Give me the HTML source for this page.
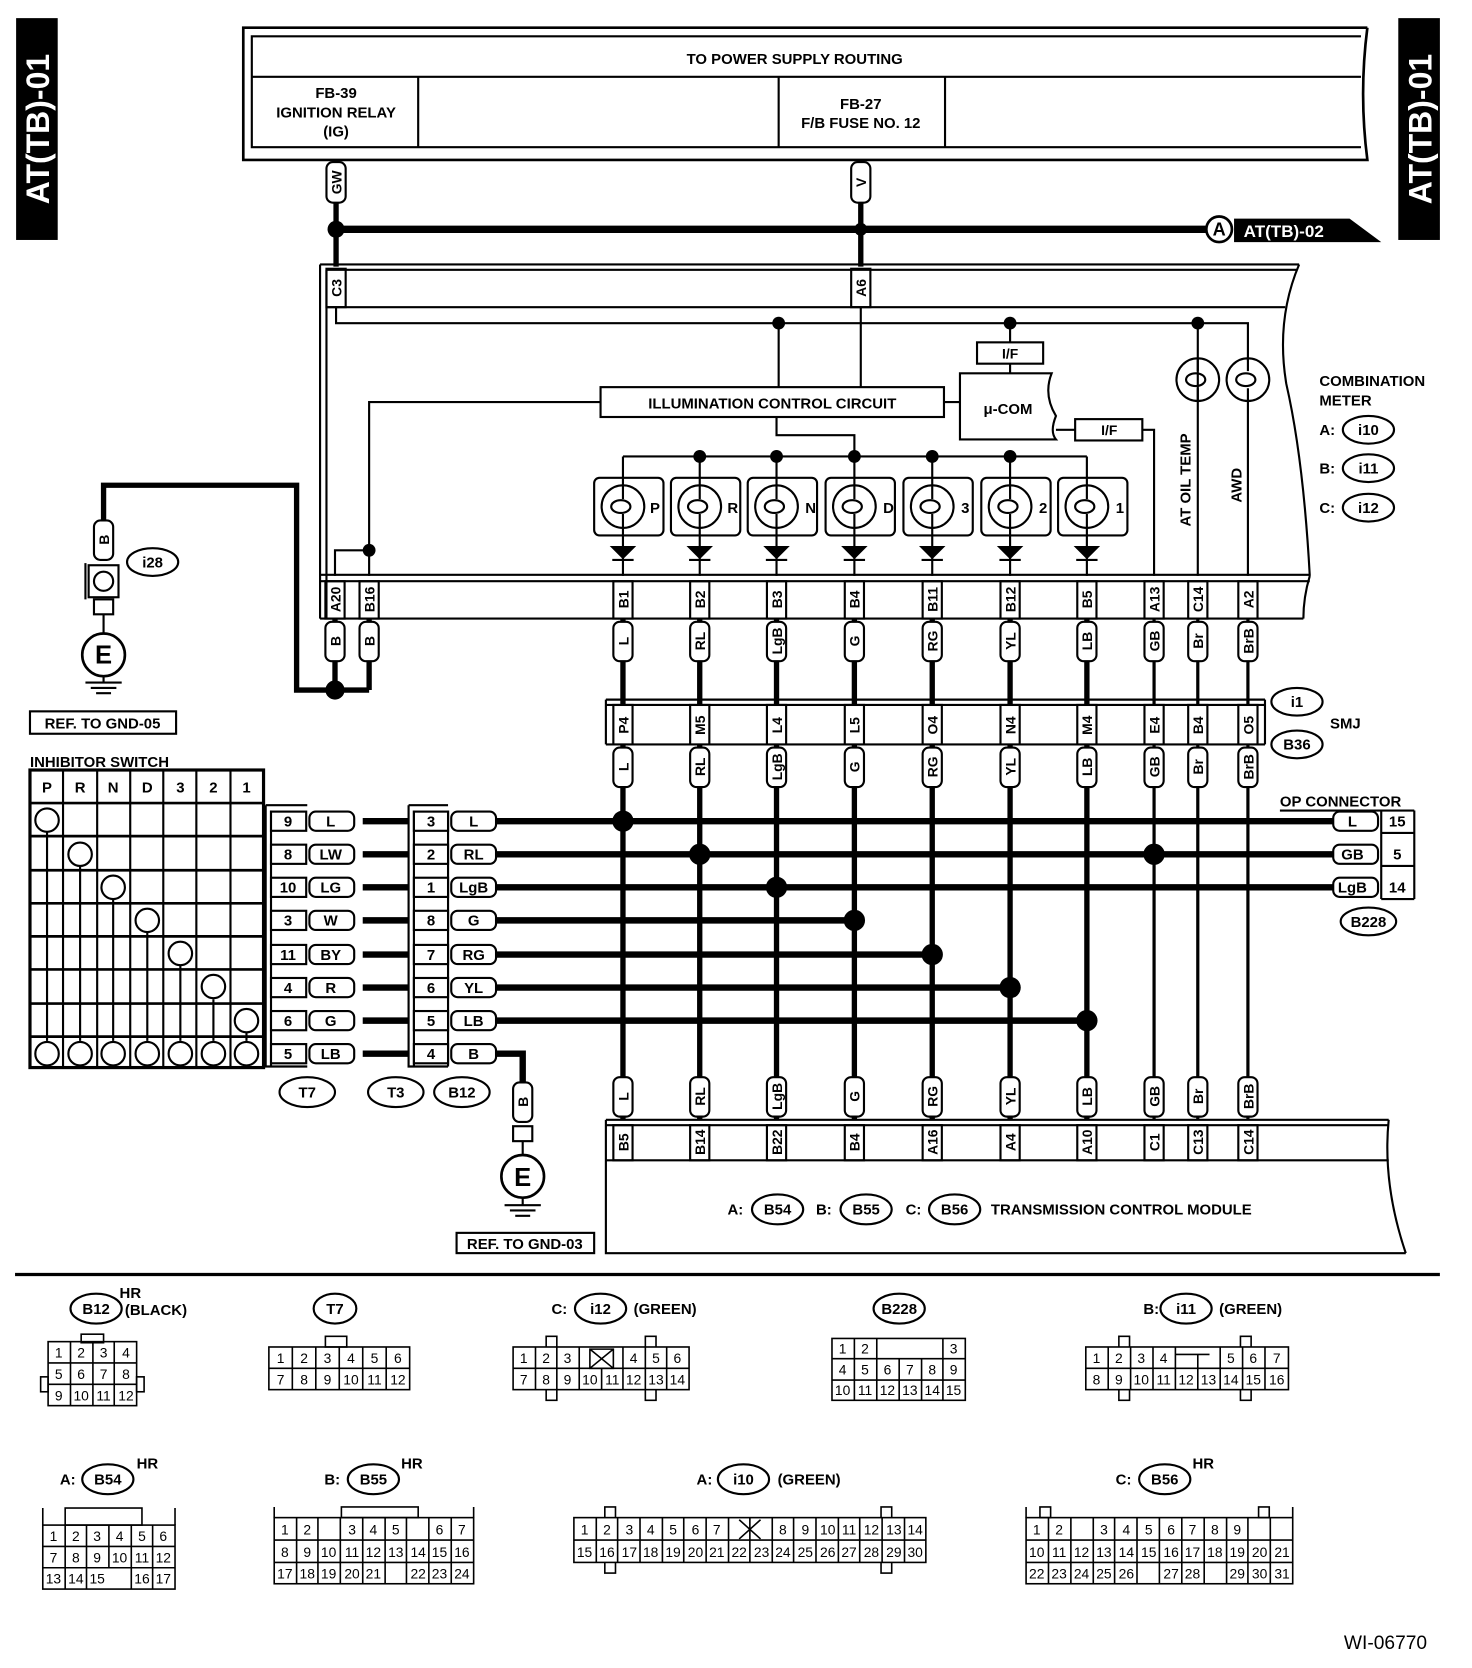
<!DOCTYPE html>
<html><head><meta charset="utf-8"><style>
html,body{margin:0;padding:0;background:#fff;}
svg{display:block;}
text{font-family:"Liberation Sans",Arial,sans-serif;font-weight:bold;fill:#000;}
.n text, text.n{font-weight:normal;}
</style></head><body>
<svg width="1472" height="1668" viewBox="0 0 1380 1564" xmlns="http://www.w3.org/2000/svg">
<g fill="none" stroke="#000" stroke-width="2">
<rect x="16" y="18" width="37" height="206" fill="#000"/>
<rect x="1312" y="18" width="37" height="206" fill="#000"/>
<path d="M1282 26 H228 V150 H1282 Q1274 88 1282 26" stroke-width="2.5"/>
<path d="M1276 34 H236 V138 H1276" />
<line x1="236" y1="72" x2="1276" y2="72"/>
<line x1="392" y1="72" x2="392" y2="138"/>
<line x1="730" y1="72" x2="730" y2="138"/>
<line x1="886" y1="72" x2="886" y2="138"/>
<line x1="315" y1="150" x2="315" y2="250" stroke-width="5"/>
<line x1="807" y1="150" x2="807" y2="250" stroke-width="5"/>
<line x1="315" y1="215" x2="1132" y2="215" stroke-width="7"/>
<rect x="306" y="152" width="18" height="38" rx="6" fill="#fff"/>
<rect x="798" y="152" width="18" height="38" rx="6" fill="#fff"/>
<circle cx="1143" cy="215" r="12" fill="#fff" stroke-width="2.5"/>
<path d="M1158 206 H1265 L1292 226 H1158 Z" fill="#000"/>
<path d="M300 248 H1218 M306 253 H1216 M300 248 V580 M306 253 V580" />
<line x1="306" y1="288" x2="1205" y2="288"/>
<path d="M1218 248 Q1196 300 1206 360 Q1222 430 1228 540" />
<rect x="306" y="252" width="18" height="36"/>
<rect x="798" y="252" width="18" height="36"/>
<path d="M315 288 V303 H1170 V338"/>
<line x1="730" y1="303" x2="730" y2="363"/>
<line x1="807" y1="288" x2="807" y2="363"/>
<line x1="947" y1="303" x2="947" y2="350"/>
<line x1="1123" y1="303" x2="1123" y2="540"/>
<line x1="1170" y1="375" x2="1170" y2="540"/>
<rect x="563" y="363" width="322" height="28" fill="#fff"/>
<rect x="916" y="321" width="62" height="20" fill="#fff"/>
<path d="M900 350 H986 Q978 370 990 390 Q984 405 990 412 H900 Z" fill="#fff"/>
<line x1="885" y1="377" x2="900" y2="377"/>
<path d="M990 403 H1008"/>
<rect x="1008" y="393" width="63" height="20" fill="#fff"/>
<path d="M1071 403 H1082 V540"/>
<path d="M563 377 H346 V540"/>
<path d="M346 516 H314 V540"/>
<path d="M728 391 V408 H801 V428"/>
<line x1="584" y1="428" x2="1019" y2="428"/>
<circle cx="1123" cy="356" r="20"/><circle cx="1170" cy="356" r="20"/>
<path d="M1123 336 V348 M1123 364 V376 M1170 336 V348 M1170 364 V376"/>
<ellipse cx="1121" cy="356" rx="9" ry="6"/><ellipse cx="1168" cy="356" rx="9" ry="6"/>
<rect x="557" y="448" width="65" height="54" rx="5"/><circle cx="584" cy="475" r="20"/><ellipse cx="582" cy="475" rx="9" ry="6"/><path d="M584 428 V468 M584 482 V540 M574 525 H594"/><path d="M574 513 H594 L584 523 Z" fill="#000"/>
<rect x="629" y="448" width="65" height="54" rx="5"/><circle cx="656" cy="475" r="20"/><ellipse cx="654" cy="475" rx="9" ry="6"/><path d="M656 428 V468 M656 482 V540 M646 525 H666"/><path d="M646 513 H666 L656 523 Z" fill="#000"/>
<rect x="701" y="448" width="65" height="54" rx="5"/><circle cx="728" cy="475" r="20"/><ellipse cx="726" cy="475" rx="9" ry="6"/><path d="M728 428 V468 M728 482 V540 M718 525 H738"/><path d="M718 513 H738 L728 523 Z" fill="#000"/>
<rect x="774" y="448" width="65" height="54" rx="5"/><circle cx="801" cy="475" r="20"/><ellipse cx="799" cy="475" rx="9" ry="6"/><path d="M801 428 V468 M801 482 V540 M791 525 H811"/><path d="M791 513 H811 L801 523 Z" fill="#000"/>
<rect x="847" y="448" width="65" height="54" rx="5"/><circle cx="874" cy="475" r="20"/><ellipse cx="872" cy="475" rx="9" ry="6"/><path d="M874 428 V468 M874 482 V540 M864 525 H884"/><path d="M864 513 H884 L874 523 Z" fill="#000"/>
<rect x="920" y="448" width="65" height="54" rx="5"/><circle cx="947" cy="475" r="20"/><ellipse cx="945" cy="475" rx="9" ry="6"/><path d="M947 428 V468 M947 482 V540 M937 525 H957"/><path d="M937 513 H957 L947 523 Z" fill="#000"/>
<rect x="992" y="448" width="65" height="54" rx="5"/><circle cx="1019" cy="475" r="20"/><ellipse cx="1017" cy="475" rx="9" ry="6"/><path d="M1019 428 V468 M1019 482 V540 M1009 525 H1029"/><path d="M1009 513 H1029 L1019 523 Z" fill="#000"/>
<path d="M300 539 H1228 M300 545 H1228 M300 580 H1222"/>
<path d="M1228 540 Q1222 560 1222 580"/>
<rect x="305" y="545" width="18" height="35"/><rect x="337" y="545" width="18" height="35"/>
<rect x="575" y="545" width="18" height="35"/><rect x="647" y="545" width="18" height="35"/>
<rect x="719" y="545" width="18" height="35"/><rect x="792" y="545" width="18" height="35"/>
<rect x="865" y="545" width="18" height="35"/><rect x="938" y="545" width="18" height="35"/>
<rect x="1010" y="545" width="18" height="35"/><rect x="1073" y="545" width="18" height="35"/>
<rect x="1114" y="545" width="18" height="35"/><rect x="1161" y="545" width="18" height="35"/>
<path d="M97 488 V455 H278 V647 H346" stroke-width="5"/>
<line x1="314" y1="580" x2="314" y2="647" stroke-width="5"/>
<line x1="346" y1="580" x2="346" y2="647" stroke-width="5"/>
<rect x="305" y="583" width="18" height="37" rx="6" fill="#fff"/>
<rect x="337" y="583" width="18" height="37" rx="6" fill="#fff"/>
<rect x="88" y="488" width="18" height="37" rx="6" fill="#fff"/>
<rect x="83" y="530" width="28" height="30" fill="#fff"/><path d="M80 528 V562"/>
<circle cx="97" cy="545" r="9"/>
<rect x="88" y="562" width="18" height="14"/>
<line x1="97" y1="576" x2="97" y2="594"/>
<circle cx="97" cy="614" r="20" stroke-width="2.5"/>
<path d="M97 634 V640 M80 640 H114 M85 645 H109 M90 650 H104" />
<ellipse cx="143" cy="527" rx="24" ry="13"/>
<rect x="28" y="667" width="137" height="21"/>
<g stroke-width="5">
<path d="M584 580 V1050 M656 580 V1050 M728 580 V1050 M801 580 V1050 M874 580 V1050 M947 580 V1050 M1019 580 V1050"/>
</g>
<path d="M1082 580 V1050 M1123 580 V1050 M1170 580 V1050" stroke-width="3"/>
<path d="M568 656 H1186 M568 661 H1186 M568 698 H1186 M568 656 V698 M1186 656 V698"/>
<g stroke-width="6">
<path d="M340 770 H383 M340 801 H383 M340 832 H383 M340 863 H383 M340 895 H383 M340 926 H383 M340 957 H383 M340 988 H383"/>
<path d="M463 770 H1250 M463 801 H1250 M463 832 H1250 M463 863 H801 M463 895 H874 M463 926 H947 M463 957 H1019"/>
<path d="M463 988 H490 V1015"/>
</g>
<g fill="#fff">
<rect x="575" y="583" width="18" height="37" rx="6"/><rect x="647" y="583" width="18" height="37" rx="6"/><rect x="719" y="583" width="18" height="37" rx="6"/><rect x="792" y="583" width="18" height="37" rx="6"/><rect x="865" y="583" width="18" height="37" rx="6"/><rect x="938" y="583" width="18" height="37" rx="6"/><rect x="1010" y="583" width="18" height="37" rx="6"/><rect x="1073" y="583" width="18" height="37" rx="6"/><rect x="1114" y="583" width="18" height="37" rx="6"/><rect x="1161" y="583" width="18" height="37" rx="6"/>
<rect x="575" y="661" width="18" height="37"/><rect x="647" y="661" width="18" height="37"/><rect x="719" y="661" width="18" height="37"/><rect x="792" y="661" width="18" height="37"/><rect x="865" y="661" width="18" height="37"/><rect x="938" y="661" width="18" height="37"/><rect x="1010" y="661" width="18" height="37"/><rect x="1073" y="661" width="18" height="37"/><rect x="1114" y="661" width="18" height="37"/><rect x="1161" y="661" width="18" height="37"/>
<rect x="575" y="701" width="18" height="37" rx="6"/><rect x="647" y="701" width="18" height="37" rx="6"/><rect x="719" y="701" width="18" height="37" rx="6"/><rect x="792" y="701" width="18" height="37" rx="6"/><rect x="865" y="701" width="18" height="37" rx="6"/><rect x="938" y="701" width="18" height="37" rx="6"/><rect x="1010" y="701" width="18" height="37" rx="6"/><rect x="1073" y="701" width="18" height="37" rx="6"/><rect x="1114" y="701" width="18" height="37" rx="6"/><rect x="1161" y="701" width="18" height="37" rx="6"/>
<rect x="575" y="1010" width="18" height="37" rx="6"/><rect x="647" y="1010" width="18" height="37" rx="6"/><rect x="719" y="1010" width="18" height="37" rx="6"/><rect x="792" y="1010" width="18" height="37" rx="6"/><rect x="865" y="1010" width="18" height="37" rx="6"/><rect x="938" y="1010" width="18" height="37" rx="6"/><rect x="1010" y="1010" width="18" height="37" rx="6"/><rect x="1073" y="1010" width="18" height="37" rx="6"/><rect x="1114" y="1010" width="18" height="37" rx="6"/><rect x="1161" y="1010" width="18" height="37" rx="6"/>
</g>
<ellipse cx="1216" cy="658" rx="24" ry="13"/><ellipse cx="1216" cy="698" rx="24" ry="13"/>
<ellipse cx="1283" cy="403" rx="24" ry="13"/><ellipse cx="1283" cy="439" rx="24" ry="13"/><ellipse cx="1283" cy="476" rx="24" ry="13"/>
<path d="M568 1050 H1302 M568 1055 H1302 M568 1088 H1302 M568 1050 V1175 H1318"/>
<path d="M1302 1050 Q1296 1110 1318 1175"/>
<rect x="575" y="1055" width="18" height="33"/><rect x="647" y="1055" width="18" height="33"/><rect x="719" y="1055" width="18" height="33"/><rect x="792" y="1055" width="18" height="33"/><rect x="865" y="1055" width="18" height="33"/><rect x="938" y="1055" width="18" height="33"/><rect x="1010" y="1055" width="18" height="33"/><rect x="1073" y="1055" width="18" height="33"/><rect x="1114" y="1055" width="18" height="33"/><rect x="1161" y="1055" width="18" height="33"/>
<ellipse cx="729" cy="1134" rx="24" ry="14"/><ellipse cx="812" cy="1134" rx="24" ry="14"/><ellipse cx="895" cy="1134" rx="24" ry="14"/>
<g fill="#fff"><rect x="1250" y="761" width="42" height="18" rx="6"/><rect x="1250" y="792" width="42" height="18" rx="6"/><rect x="1250" y="823" width="42" height="18" rx="6"/></g>
<path d="M1200 760 H1326 M1295 760 V843 M1295 781 H1326 M1295 812 H1326 M1295 843 H1326 M1326 760 V843"/>
<ellipse cx="1283" cy="864" rx="26" ry="13"/>
<rect x="28" y="722" width="219" height="279" stroke-width="3"/>
<path d="M59 722 V1001 M91 722 V1001 M122 722 V1001 M153 722 V1001 M184 722 V1001 M216 722 V1001"/>
<path d="M28 753 H247 M28 784 H247 M28 816 H247 M28 847 H247 M28 878 H247 M28 909 H247 M28 941 H247 M28 972 H247" stroke-width="2.5"/>
<path d="M44 780 V976 M75 812 V976 M106 843 V976 M138 874 V976 M169 905 V976 M200 937 V976 M231 968 V976"/>
<circle cx="44" cy="769" r="11" fill="#fff"/><circle cx="75" cy="801" r="11" fill="#fff"/><circle cx="106" cy="832" r="11" fill="#fff"/><circle cx="138" cy="863" r="11" fill="#fff"/><circle cx="169" cy="894" r="11" fill="#fff"/><circle cx="200" cy="925" r="11" fill="#fff"/><circle cx="231" cy="957" r="11" fill="#fff"/>
<circle cx="44" cy="988" r="11" fill="#fff"/><circle cx="75" cy="988" r="11" fill="#fff"/><circle cx="106" cy="988" r="11" fill="#fff"/><circle cx="138" cy="988" r="11" fill="#fff"/><circle cx="169" cy="988" r="11" fill="#fff"/><circle cx="200" cy="988" r="11" fill="#fff"/><circle cx="231" cy="988" r="11" fill="#fff"/>
<path d="M249 755 H288 M249 755 V1000 H288 M254 760 V1000"/>
<g fill="#fff">
<rect x="254" y="761" width="33" height="18"/><rect x="254" y="792" width="33" height="18"/><rect x="254" y="823" width="33" height="18"/><rect x="254" y="854" width="33" height="18"/><rect x="254" y="886" width="33" height="18"/><rect x="254" y="917" width="33" height="18"/><rect x="254" y="948" width="33" height="18"/><rect x="254" y="979" width="33" height="18"/>
<rect x="290" y="761" width="42" height="18" rx="6"/><rect x="290" y="792" width="42" height="18" rx="6"/><rect x="290" y="823" width="42" height="18" rx="6"/><rect x="290" y="854" width="42" height="18" rx="6"/><rect x="290" y="886" width="42" height="18" rx="6"/><rect x="290" y="917" width="42" height="18" rx="6"/><rect x="290" y="948" width="42" height="18" rx="6"/><rect x="290" y="979" width="42" height="18" rx="6"/>
</g>
<path d="M383 755 V1000 H420 M383 755 H420 M388 760 V1000 M420 760 V1000"/>
<g fill="#fff">
<rect x="388" y="761" width="32" height="18"/><rect x="388" y="792" width="32" height="18"/><rect x="388" y="823" width="32" height="18"/><rect x="388" y="854" width="32" height="18"/><rect x="388" y="886" width="32" height="18"/><rect x="388" y="917" width="32" height="18"/><rect x="388" y="948" width="32" height="18"/><rect x="388" y="979" width="32" height="18"/>
<rect x="423" y="761" width="42" height="18" rx="6"/><rect x="423" y="792" width="42" height="18" rx="6"/><rect x="423" y="823" width="42" height="18" rx="6"/><rect x="423" y="854" width="42" height="18" rx="6"/><rect x="423" y="886" width="42" height="18" rx="6"/><rect x="423" y="917" width="42" height="18" rx="6"/><rect x="423" y="948" width="42" height="18" rx="6"/><rect x="423" y="979" width="42" height="18" rx="6"/>
</g>
<ellipse cx="288" cy="1024" rx="26" ry="14"/><ellipse cx="371" cy="1024" rx="26" ry="14"/><ellipse cx="433" cy="1024" rx="26" ry="14"/>
<rect x="481" y="1015" width="18" height="37" rx="6" fill="#fff"/>
<rect x="481" y="1056" width="18" height="14"/><line x1="490" y1="1070" x2="490" y2="1082"/>
<circle cx="490" cy="1103" r="20" stroke-width="2.5"/>
<path d="M490 1123 V1130 M473 1130 H507 M478 1135 H502 M483 1140 H497"/>
<rect x="428" y="1156" width="129" height="19"/>
<line x1="14" y1="1195" x2="1350" y2="1195" stroke-width="3"/>
<ellipse cx="90" cy="1227" rx="24" ry="14"/><ellipse cx="314" cy="1227" rx="20" ry="14"/><ellipse cx="563" cy="1227" rx="24" ry="14"/><ellipse cx="843" cy="1227" rx="24" ry="14"/><ellipse cx="1112" cy="1227" rx="24" ry="14"/>
<ellipse cx="101" cy="1387" rx="24" ry="14"/><ellipse cx="350" cy="1387" rx="24" ry="14"/><ellipse cx="697" cy="1387" rx="24" ry="14"/><ellipse cx="1092" cy="1387" rx="24" ry="14"/>
</g>
<g stroke="#000" stroke-width="1.5" fill="none">
<rect x="76" y="1251" width="21" height="8"/>
<rect x="38" y="1291" width="7" height="14"/><rect x="128" y="1291" width="7" height="14"/>
<rect x="45" y="1258" width="83" height="60"/><path d="M66 1258 V1318 M87 1258 V1318 M107 1258 V1318 M45 1278 H128 M45 1298 H128"/>
<rect x="305" y="1253" width="20" height="10"/>
<rect x="252" y="1263" width="132" height="40"/><path d="M274 1263 V1303 M296 1263 V1303 M318 1263 V1303 M340 1263 V1303 M362 1263 V1303 M252 1283 H384"/>
<rect x="512" y="1253" width="10" height="60"/><rect x="605" y="1253" width="10" height="60"/>
<rect x="481" y="1263" width="165" height="40" fill="#fff"/><path d="M502 1263 V1303 M522 1263 V1303 M543 1263 V1303 M564 1283 V1303 M584 1263 V1303 M605 1263 V1303 M625 1263 V1303 M481 1283 H646"/>
<path d="M553 1265 H575 V1283 H553 Z M553 1265 L575 1283 M575 1265 L553 1283"/>
<rect x="780" y="1255" width="125" height="58"/><path d="M801 1255 V1313 M822 1274 V1313 M843 1274 V1313 M864 1274 V1313 M884 1255 V1313 M822 1255 V1274 M780 1274 H905 M780 1294 H905"/>
<rect x="1049" y="1253" width="10" height="60"/><rect x="1163" y="1253" width="10" height="60"/>
<rect x="1018" y="1263" width="190" height="40" fill="#fff"/><path d="M1039 1263 V1303 M1060 1263 V1303 M1081 1263 V1303 M1102 1263 V1303 M1123 1270 V1303 M1144 1263 V1303 M1165 1263 V1303 M1186 1263 V1303 M1018 1283 H1208 M1102 1270 H1134"/>
<path d="M40 1414 V1430 M164 1414 V1430"/><rect x="61" y="1414" width="72" height="16"/>
<rect x="40" y="1430" width="124" height="60"/><path d="M61 1430 V1490 M81 1430 V1490 M102 1430 V1470 M123 1430 V1490 M143 1430 V1490 M40 1450 H164 M40 1470 H164"/>
<path d="M257 1413 V1423 M444 1413 V1423"/><rect x="320" y="1413" width="72" height="10"/>
<rect x="257" y="1423" width="187" height="62"/><path d="M278 1423 V1485 M298 1423 V1485 M319 1423 V1485 M340 1423 V1485 M361 1423 V1485 M381 1423 V1485 M402 1423 V1485 M423 1423 V1485 M257 1444 H444 M257 1465 H444"/>
<rect x="567" y="1413" width="10" height="62"/><rect x="826" y="1413" width="10" height="62"/>
<rect x="538" y="1423" width="330" height="42" fill="#fff"/><path d="M559 1423 V1465 M579 1423 V1465 M600 1423 V1465 M621 1423 V1465 M641 1423 V1465 M662 1423 V1465 M683 1423 V1465 M703 1423 V1465 M724 1423 V1465 M744 1423 V1465 M765 1423 V1465 M786 1423 V1465 M806 1423 V1465 M827 1423 V1465 M848 1423 V1465 M538 1444 H868"/>
<path d="M693 1425 L713 1443 M713 1425 L693 1443"/>
<path d="M962 1413 V1423 M1212 1413 V1423"/><rect x="975" y="1413" width="10" height="10"/><rect x="1180" y="1413" width="10" height="10"/>
<rect x="962" y="1423" width="250" height="62"/><path d="M983 1423 V1485 M1004 1423 V1485 M1025 1423 V1485 M1045 1423 V1485 M1066 1423 V1485 M1087 1423 V1485 M1108 1423 V1485 M1129 1423 V1485 M1150 1423 V1485 M1170 1423 V1485 M1191 1423 V1485 M962 1444 H1212 M962 1465 H1212"/>
</g>
<g fill="#000">
<circle cx="315" cy="215" r="8"/><circle cx="807" cy="215" r="6"/>
<circle cx="730" cy="303" r="6"/><circle cx="947" cy="303" r="6"/><circle cx="1123" cy="303" r="6"/>
<circle cx="656" cy="428" r="6"/><circle cx="728" cy="428" r="6"/><circle cx="801" cy="428" r="6"/><circle cx="874" cy="428" r="6"/><circle cx="947" cy="428" r="6"/>
<circle cx="346" cy="516" r="6"/><circle cx="314" cy="647" r="9"/>
<circle cx="584" cy="770" r="10"/><circle cx="656" cy="801" r="10"/><circle cx="1082" cy="801" r="10"/><circle cx="728" cy="832" r="10"/><circle cx="801" cy="863" r="10"/><circle cx="874" cy="895" r="10"/><circle cx="947" cy="926" r="10"/><circle cx="1019" cy="957" r="10"/>
</g>
<g font-size="14">
<text transform="translate(46,121) rotate(-90)" text-anchor="middle" font-size="30" style="fill:#fff">AT(TB)-01</text>
<text transform="translate(1342,121) rotate(-90)" text-anchor="middle" font-size="30" style="fill:#fff">AT(TB)-01</text>
<text x="745" y="60" text-anchor="middle">TO POWER SUPPLY ROUTING</text>
<text x="315" y="92" text-anchor="middle">FB-39</text>
<text x="315" y="110" text-anchor="middle">IGNITION RELAY</text>
<text x="315" y="128" text-anchor="middle">(IG)</text>
<text x="807" y="102" text-anchor="middle">FB-27</text>
<text x="807" y="120" text-anchor="middle">F/B FUSE NO. 12</text>
<text transform="translate(320,171) rotate(-90)" text-anchor="middle" font-size="13">GW</text>
<text transform="translate(812,171) rotate(-90)" text-anchor="middle" font-size="13">V</text>
<text x="1143" y="221" text-anchor="middle" font-size="17">A</text>
<text x="1166" y="222" font-size="16" style="fill:#fff">AT(TB)-02</text>
<text transform="translate(320,270) rotate(-90)" text-anchor="middle" font-size="13">C3</text>
<text transform="translate(812,270) rotate(-90)" text-anchor="middle" font-size="13">A6</text>
<text x="947" y="336" text-anchor="middle" font-size="13">I/F</text>
<text x="945" y="388" text-anchor="middle">μ-COM</text>
<text x="1040" y="408" text-anchor="middle" font-size="13">I/F</text>
<text x="724" y="383" text-anchor="middle">ILLUMINATION CONTROL CIRCUIT</text>
<text x="614" y="481" text-anchor="middle">P</text><text x="687" y="481" text-anchor="middle">R</text><text x="760" y="481" text-anchor="middle">N</text><text x="833" y="481" text-anchor="middle">D</text><text x="905" y="481" text-anchor="middle">3</text><text x="978" y="481" text-anchor="middle">2</text><text x="1050" y="481" text-anchor="middle">1</text>
<text transform="translate(1116,450) rotate(-90)" text-anchor="middle">AT OIL TEMP</text>
<text transform="translate(1164,455) rotate(-90)" text-anchor="middle">AWD</text>
<text x="1237" y="362">COMBINATION</text><text x="1237" y="380">METER</text>
<text x="1237" y="408">A:</text><text x="1283" y="408" text-anchor="middle">i10</text>
<text x="1237" y="444">B:</text><text x="1283" y="444" text-anchor="middle">i11</text>
<text x="1237" y="481">C:</text><text x="1283" y="481" text-anchor="middle">i12</text>
</g>
<g font-size="13" text-anchor="middle">
<text transform="translate(319,562) rotate(-90)">A20</text><text transform="translate(351,562) rotate(-90)">B16</text>
<text transform="translate(589,562) rotate(-90)">B1</text><text transform="translate(661,562) rotate(-90)">B2</text><text transform="translate(733,562) rotate(-90)">B3</text><text transform="translate(806,562) rotate(-90)">B4</text><text transform="translate(879,562) rotate(-90)">B11</text><text transform="translate(952,562) rotate(-90)">B12</text><text transform="translate(1024,562) rotate(-90)">B5</text><text transform="translate(1087,562) rotate(-90)">A13</text><text transform="translate(1128,562) rotate(-90)">C14</text><text transform="translate(1175,562) rotate(-90)">A2</text>
<text transform="translate(319,601) rotate(-90)">B</text><text transform="translate(351,601) rotate(-90)">B</text>
<text transform="translate(589,601) rotate(-90)">L</text><text transform="translate(661,601) rotate(-90)">RL</text><text transform="translate(733,601) rotate(-90)">LgB</text><text transform="translate(806,601) rotate(-90)">G</text><text transform="translate(879,601) rotate(-90)">RG</text><text transform="translate(952,601) rotate(-90)">YL</text><text transform="translate(1024,601) rotate(-90)">LB</text><text transform="translate(1087,601) rotate(-90)">GB</text><text transform="translate(1128,601) rotate(-90)">Br</text><text transform="translate(1175,601) rotate(-90)">BrB</text>
<text transform="translate(589,680) rotate(-90)">P4</text><text transform="translate(661,680) rotate(-90)">M5</text><text transform="translate(733,680) rotate(-90)">L4</text><text transform="translate(806,680) rotate(-90)">L5</text><text transform="translate(879,680) rotate(-90)">O4</text><text transform="translate(952,680) rotate(-90)">N4</text><text transform="translate(1024,680) rotate(-90)">M4</text><text transform="translate(1087,680) rotate(-90)">E4</text><text transform="translate(1128,680) rotate(-90)">B4</text><text transform="translate(1175,680) rotate(-90)">O5</text>
<text transform="translate(589,719) rotate(-90)">L</text><text transform="translate(661,719) rotate(-90)">RL</text><text transform="translate(733,719) rotate(-90)">LgB</text><text transform="translate(806,719) rotate(-90)">G</text><text transform="translate(879,719) rotate(-90)">RG</text><text transform="translate(952,719) rotate(-90)">YL</text><text transform="translate(1024,719) rotate(-90)">LB</text><text transform="translate(1087,719) rotate(-90)">GB</text><text transform="translate(1128,719) rotate(-90)">Br</text><text transform="translate(1175,719) rotate(-90)">BrB</text>
<text transform="translate(589,1028) rotate(-90)">L</text><text transform="translate(661,1028) rotate(-90)">RL</text><text transform="translate(733,1028) rotate(-90)">LgB</text><text transform="translate(806,1028) rotate(-90)">G</text><text transform="translate(879,1028) rotate(-90)">RG</text><text transform="translate(952,1028) rotate(-90)">YL</text><text transform="translate(1024,1028) rotate(-90)">LB</text><text transform="translate(1087,1028) rotate(-90)">GB</text><text transform="translate(1128,1028) rotate(-90)">Br</text><text transform="translate(1175,1028) rotate(-90)">BrB</text>
<text transform="translate(589,1071) rotate(-90)">B5</text><text transform="translate(661,1071) rotate(-90)">B14</text><text transform="translate(733,1071) rotate(-90)">B22</text><text transform="translate(806,1071) rotate(-90)">B4</text><text transform="translate(879,1071) rotate(-90)">A16</text><text transform="translate(952,1071) rotate(-90)">A4</text><text transform="translate(1024,1071) rotate(-90)">A10</text><text transform="translate(1087,1071) rotate(-90)">C1</text><text transform="translate(1128,1071) rotate(-90)">C13</text><text transform="translate(1175,1071) rotate(-90)">C14</text>
<text transform="translate(102,506) rotate(-90)">B</text>
<text transform="translate(495,1033) rotate(-90)">B</text>
</g>
<g font-size="14">
<text x="97" y="622" text-anchor="middle" font-size="24">E</text>
<text x="490" y="1112" text-anchor="middle" font-size="24">E</text>
<text x="143" y="532" text-anchor="middle">i28</text>
<text x="96" y="683" text-anchor="middle">REF. TO GND-05</text>
<text x="492" y="1171" text-anchor="middle">REF. TO GND-03</text>
<text x="1216" y="663" text-anchor="middle">i1</text>
<text x="1216" y="703" text-anchor="middle">B36</text>
<text x="1247" y="683">SMJ</text>
<text x="1200" y="756">OP CONNECTOR</text>
<text x="1268" y="775" text-anchor="middle">L</text><text x="1268" y="806" text-anchor="middle">GB</text><text x="1268" y="837" text-anchor="middle">LgB</text>
<text x="1310" y="775" text-anchor="middle">15</text><text x="1310" y="806" text-anchor="middle">5</text><text x="1310" y="837" text-anchor="middle">14</text>
<text x="1283" y="869" text-anchor="middle">B228</text>
<text x="28" y="719">INHIBITOR SWITCH</text>
<g text-anchor="middle"><text x="44" y="743">P</text><text x="75" y="743">R</text><text x="106" y="743">N</text><text x="138" y="743">D</text><text x="169" y="743">3</text><text x="200" y="743">2</text><text x="231" y="743">1</text></g>
<g text-anchor="middle">
<text x="270" y="775">9</text><text x="270" y="806">8</text><text x="270" y="837">10</text><text x="270" y="868">3</text><text x="270" y="900">11</text><text x="270" y="931">4</text><text x="270" y="962">6</text><text x="270" y="993">5</text>
<text x="310" y="775">L</text><text x="310" y="806">LW</text><text x="310" y="837">LG</text><text x="310" y="868">W</text><text x="310" y="900">BY</text><text x="310" y="931">R</text><text x="310" y="962">G</text><text x="310" y="993">LB</text>
<text x="404" y="775">3</text><text x="404" y="806">2</text><text x="404" y="837">1</text><text x="404" y="868">8</text><text x="404" y="900">7</text><text x="404" y="931">6</text><text x="404" y="962">5</text><text x="404" y="993">4</text>
<text x="444" y="775">L</text><text x="444" y="806">RL</text><text x="444" y="837">LgB</text><text x="444" y="868">G</text><text x="444" y="900">RG</text><text x="444" y="931">YL</text><text x="444" y="962">LB</text><text x="444" y="993">B</text>
<text x="288" y="1029">T7</text><text x="371" y="1029">T3</text><text x="433" y="1029">B12</text>
</g>
<text x="682" y="1139">A:</text><text x="729" y="1139" text-anchor="middle">B54</text>
<text x="765" y="1139">B:</text><text x="812" y="1139" text-anchor="middle">B55</text>
<text x="849" y="1139">C:</text><text x="895" y="1139" text-anchor="middle">B56</text>
<text x="929" y="1139">TRANSMISSION CONTROL MODULE</text>
<text x="90" y="1232" text-anchor="middle">B12</text><text x="112" y="1217">HR</text><text x="117" y="1233">(BLACK)</text>
<text x="314" y="1232" text-anchor="middle">T7</text>
<text x="517" y="1232">C:</text><text x="563" y="1232" text-anchor="middle">i12</text><text x="594" y="1232">(GREEN)</text>
<text x="843" y="1232" text-anchor="middle">B228</text>
<text x="1072" y="1232">B:</text><text x="1112" y="1232" text-anchor="middle">i11</text><text x="1143" y="1232">(GREEN)</text>
<text x="56" y="1392">A:</text><text x="101" y="1392" text-anchor="middle">B54</text><text x="128" y="1377">HR</text>
<text x="304" y="1392">B:</text><text x="350" y="1392" text-anchor="middle">B55</text><text x="376" y="1377">HR</text>
<text x="653" y="1392">A:</text><text x="697" y="1392" text-anchor="middle">i10</text><text x="729" y="1392">(GREEN)</text>
<text x="1046" y="1392">C:</text><text x="1092" y="1392" text-anchor="middle">B56</text><text x="1118" y="1377">HR</text>
<text class="n" x="1260" y="1546" font-size="18">WI-06770</text>
</g>
<g class="n" font-size="13" text-anchor="middle">
<text x="55" y="1273">1</text><text x="76" y="1273">2</text><text x="97" y="1273">3</text><text x="118" y="1273">4</text>
<text x="55" y="1293">5</text><text x="76" y="1293">6</text><text x="97" y="1293">7</text><text x="118" y="1293">8</text>
<text x="55" y="1313">9</text><text x="76" y="1313">10</text><text x="97" y="1313">11</text><text x="118" y="1313">12</text>
<text x="263" y="1278">1</text><text x="285" y="1278">2</text><text x="307" y="1278">3</text><text x="329" y="1278">4</text><text x="351" y="1278">5</text><text x="373" y="1278">6</text>
<text x="263" y="1298">7</text><text x="285" y="1298">8</text><text x="307" y="1298">9</text><text x="329" y="1298">10</text><text x="351" y="1298">11</text><text x="373" y="1298">12</text>
<text x="491" y="1278">1</text><text x="512" y="1278">2</text><text x="532" y="1278">3</text><text x="594" y="1278">4</text><text x="615" y="1278">5</text><text x="635" y="1278">6</text>
<text x="491" y="1298">7</text><text x="512" y="1298">8</text><text x="532" y="1298">9</text><text x="553" y="1298">10</text><text x="574" y="1298">11</text><text x="594" y="1298">12</text><text x="615" y="1298">13</text><text x="635" y="1298">14</text>
<text x="790" y="1269">1</text><text x="811" y="1269">2</text><text x="894" y="1269">3</text>
<text x="790" y="1289">4</text><text x="811" y="1289">5</text><text x="832" y="1289">6</text><text x="853" y="1289">7</text><text x="874" y="1289">8</text><text x="894" y="1289">9</text>
<text x="790" y="1308">10</text><text x="811" y="1308">11</text><text x="832" y="1308">12</text><text x="853" y="1308">13</text><text x="874" y="1308">14</text><text x="894" y="1308">15</text>
<text x="1028" y="1278">1</text><text x="1049" y="1278">2</text><text x="1070" y="1278">3</text><text x="1091" y="1278">4</text><text x="1154" y="1278">5</text><text x="1175" y="1278">6</text><text x="1197" y="1278">7</text>
<text x="1028" y="1298">8</text><text x="1049" y="1298">9</text><text x="1070" y="1298">10</text><text x="1091" y="1298">11</text><text x="1112" y="1298">12</text><text x="1133" y="1298">13</text><text x="1154" y="1298">14</text><text x="1175" y="1298">15</text><text x="1197" y="1298">16</text>
<text x="50" y="1445">1</text><text x="71" y="1445">2</text><text x="91" y="1445">3</text><text x="112" y="1445">4</text><text x="133" y="1445">5</text><text x="153" y="1445">6</text>
<text x="50" y="1465">7</text><text x="71" y="1465">8</text><text x="91" y="1465">9</text><text x="112" y="1465">10</text><text x="133" y="1465">11</text><text x="153" y="1465">12</text>
<text x="50" y="1485">13</text><text x="71" y="1485">14</text><text x="91" y="1485">15</text><text x="133" y="1485">16</text><text x="153" y="1485">17</text>
<text x="267" y="1439">1</text><text x="288" y="1439">2</text><text x="330" y="1439">3</text><text x="350" y="1439">4</text><text x="371" y="1439">5</text><text x="412" y="1439">6</text><text x="433" y="1439">7</text>
<text x="267" y="1460">8</text><text x="288" y="1460">9</text><text x="308" y="1460">10</text><text x="330" y="1460">11</text><text x="350" y="1460">12</text><text x="371" y="1460">13</text><text x="392" y="1460">14</text><text x="412" y="1460">15</text><text x="433" y="1460">16</text>
<text x="267" y="1480">17</text><text x="288" y="1480">18</text><text x="308" y="1480">19</text><text x="330" y="1480">20</text><text x="350" y="1480">21</text><text x="392" y="1480">22</text><text x="412" y="1480">23</text><text x="433" y="1480">24</text>
<text x="548" y="1439">1</text><text x="569" y="1439">2</text><text x="590" y="1439">3</text><text x="610" y="1439">4</text><text x="631" y="1439">5</text><text x="652" y="1439">6</text><text x="672" y="1439">7</text><text x="734" y="1439">8</text><text x="755" y="1439">9</text><text x="776" y="1439">10</text><text x="796" y="1439">11</text><text x="817" y="1439">12</text><text x="838" y="1439">13</text><text x="858" y="1439">14</text>
<text x="548" y="1460">15</text><text x="569" y="1460">16</text><text x="590" y="1460">17</text><text x="610" y="1460">18</text><text x="631" y="1460">19</text><text x="652" y="1460">20</text><text x="672" y="1460">21</text><text x="693" y="1460">22</text><text x="714" y="1460">23</text><text x="734" y="1460">24</text><text x="755" y="1460">25</text><text x="776" y="1460">26</text><text x="796" y="1460">27</text><text x="817" y="1460">28</text><text x="838" y="1460">29</text><text x="858" y="1460">30</text>
<text x="972" y="1439">1</text><text x="993" y="1439">2</text><text x="1035" y="1439">3</text><text x="1056" y="1439">4</text><text x="1077" y="1439">5</text><text x="1098" y="1439">6</text><text x="1118" y="1439">7</text><text x="1139" y="1439">8</text><text x="1160" y="1439">9</text>
<text x="972" y="1460">10</text><text x="993" y="1460">11</text><text x="1014" y="1460">12</text><text x="1035" y="1460">13</text><text x="1056" y="1460">14</text><text x="1077" y="1460">15</text><text x="1098" y="1460">16</text><text x="1118" y="1460">17</text><text x="1139" y="1460">18</text><text x="1160" y="1460">19</text><text x="1181" y="1460">20</text><text x="1202" y="1460">21</text>
<text x="972" y="1480">22</text><text x="993" y="1480">23</text><text x="1014" y="1480">24</text><text x="1035" y="1480">25</text><text x="1056" y="1480">26</text><text x="1098" y="1480">27</text><text x="1118" y="1480">28</text><text x="1160" y="1480">29</text><text x="1181" y="1480">30</text><text x="1202" y="1480">31</text>
</g>
</svg>
</body></html>
